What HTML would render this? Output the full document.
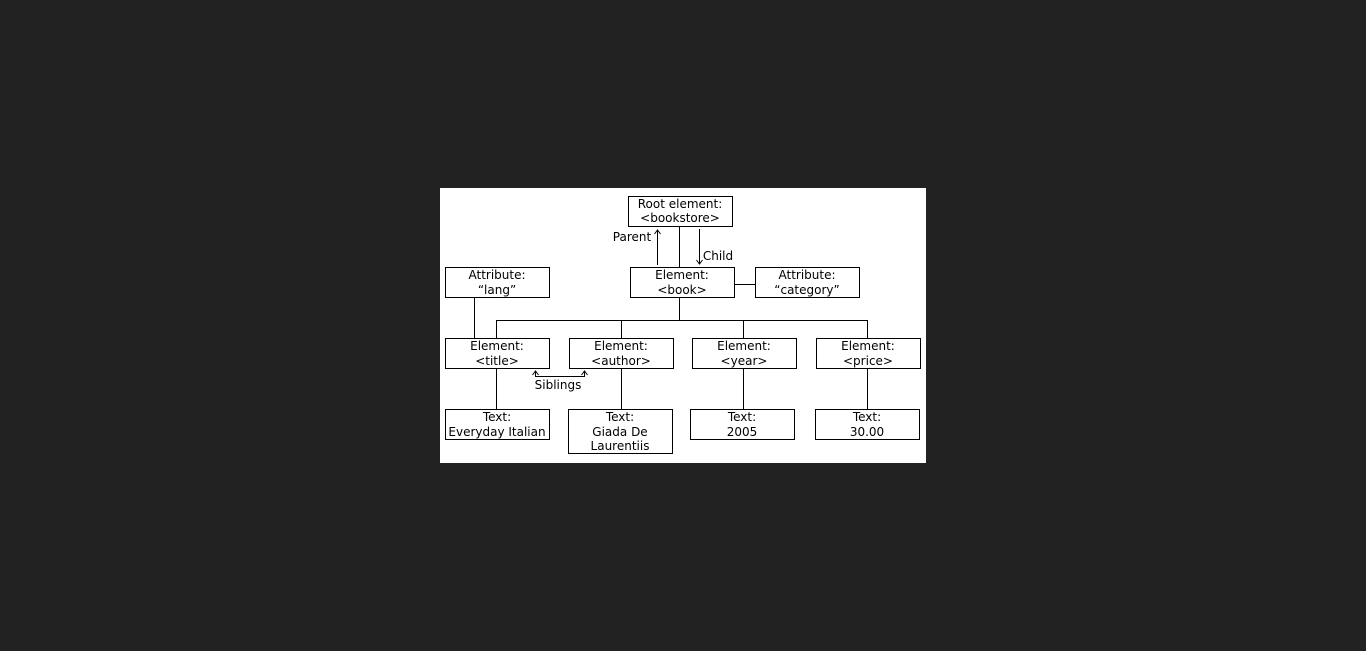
<!DOCTYPE html>
<html><head><style>
html,body{margin:0;padding:0;background:#222222;width:1366px;height:651px;overflow:hidden}
svg{position:absolute;left:0;top:0}
text{font-family:"DejaVu Sans","Liberation Sans",sans-serif;font-size:12px;fill:#000;text-anchor:middle}
</style></head><body>
<svg width="1366" height="651" viewBox="0 0 1366 651">
<rect x="440" y="188" width="486" height="275" fill="#fff"/>
<g fill="#fff" stroke="#000" stroke-width="1">
<rect x="628.5" y="196.5" width="104" height="30"/>
<rect x="630.5" y="267.5" width="104" height="30"/>
<rect x="445.5" y="267.5" width="104" height="30"/>
<rect x="755.5" y="267.5" width="104" height="30"/>
<rect x="445.5" y="338.5" width="104" height="30"/>
<rect x="569.5" y="338.5" width="104" height="30"/>
<rect x="692.5" y="338.5" width="104" height="30"/>
<rect x="816.5" y="338.5" width="104" height="30"/>
<rect x="445.5" y="409.5" width="104" height="30"/>
<rect x="568.5" y="409.5" width="104" height="44"/>
<rect x="690.5" y="409.5" width="104" height="30"/>
<rect x="815.5" y="409.5" width="104" height="30"/>
</g>
<g stroke="#000" stroke-width="1" fill="none">
<line x1="679.5" y1="227" x2="679.5" y2="267"/>
<line x1="657.5" y1="230" x2="657.5" y2="265"/>
<path d="M654.5 234 L657.5 230 L660.5 234"/>
<line x1="699.5" y1="229" x2="699.5" y2="264"/>
<path d="M696.5 260 L699.5 264 L702.5 260"/>
<line x1="735" y1="284.5" x2="755" y2="284.5"/>
<line x1="679.5" y1="298" x2="679.5" y2="320"/>
<line x1="496.5" y1="320.5" x2="867.5" y2="320.5"/>
<line x1="496.5" y1="320" x2="496.5" y2="338"/>
<line x1="621.5" y1="320" x2="621.5" y2="338"/>
<line x1="743.5" y1="320" x2="743.5" y2="338"/>
<line x1="867.5" y1="320" x2="867.5" y2="338"/>
<line x1="474.5" y1="298" x2="474.5" y2="338"/>
<line x1="496.5" y1="369" x2="496.5" y2="409"/>
<line x1="621.5" y1="369" x2="621.5" y2="409"/>
<line x1="743.5" y1="369" x2="743.5" y2="409"/>
<line x1="867.5" y1="369" x2="867.5" y2="409"/>
<path d="M535.5 372 L535.5 376.5 L584.5 376.5 L584.5 372"/>
<path d="M532.5 375 L535.5 371 L538.5 375"/>
<path d="M581.5 375 L584.5 371 L587.5 375"/>
</g>
<text x="680" y="208">Root element:</text><text x="680" y="222">&lt;bookstore&gt;</text>
<text x="632" y="241">Parent</text>
<text x="718" y="260">Child</text>
<text x="682" y="279">Element:</text><text x="682" y="294">&lt;book&gt;</text>
<text x="497" y="279">Attribute:</text><text x="497" y="294">“lang”</text>
<text x="807" y="279">Attribute:</text><text x="807" y="294">“category”</text>
<text x="497" y="350">Element:</text><text x="497" y="365">&lt;title&gt;</text>
<text x="621" y="350">Element:</text><text x="621" y="365">&lt;author&gt;</text>
<text x="744" y="350">Element:</text><text x="744" y="365">&lt;year&gt;</text>
<text x="868" y="350">Element:</text><text x="868" y="365">&lt;price&gt;</text>
<text x="558" y="389">Siblings</text>
<text x="497" y="421">Text:</text><text x="497" y="436">Everyday Italian</text>
<text x="620" y="421">Text:</text><text x="620" y="436">Giada De</text><text x="620" y="450">Laurentiis</text>
<text x="742" y="421">Text:</text><text x="742" y="436">2005</text>
<text x="867" y="421">Text:</text><text x="867" y="436">30.00</text>
</svg>
</body></html>
